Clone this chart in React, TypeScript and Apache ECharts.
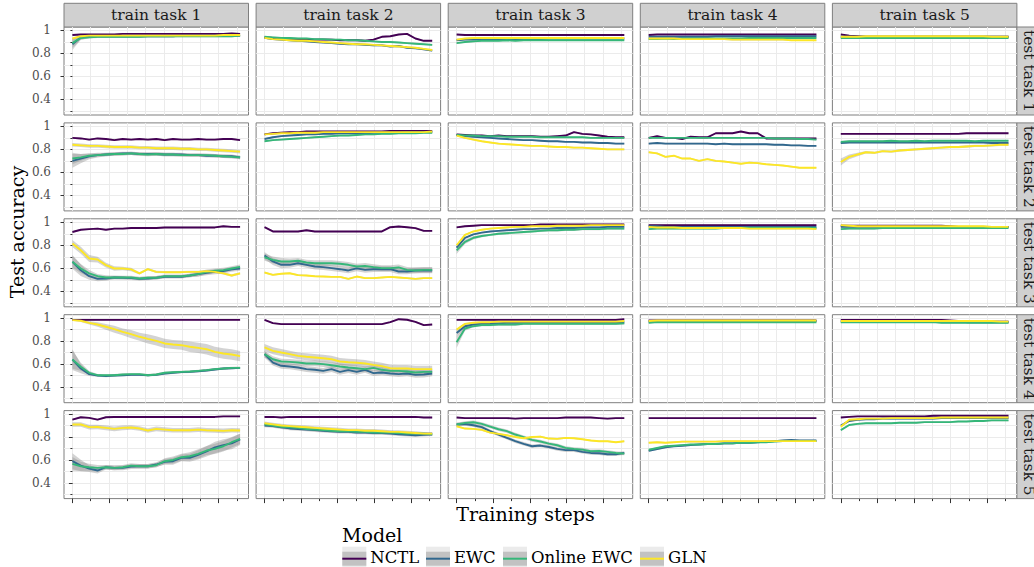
import React, { useEffect, useRef } from "react";
import * as echarts from "echarts";

const MODELS = ["NCTL", "EWC", "Online EWC", "GLN"];
const COLORS = ["#440154", "#31688E", "#35B779", "#FDE725"];
const TRAIN_TASKS = ["train task 1", "train task 2", "train task 3", "train task 4", "train task 5"];
const TEST_TASKS = ["test task 1", "test task 2", "test task 3", "test task 4", "test task 5"];

// 21 evaluation points, x in axis units (ticks at 0..9)
const POINTS = 21;
const LAST_STEP = 9.17;
const STEPS = Array.from({ length: POINTS }, (_, i) => (i * LAST_STEP) / (POINTS - 1));
const X_TICKS = [0, 1, 2, 3, 4, 5, 6, 7, 8, 9];
const X_MAJOR = [0, 2, 4, 6, 8];
const Y_TICKS = [0.3, 0.4, 0.5, 0.6, 0.7, 0.8, 0.9, 1.0];
const Y_LABELS = [0.4, 0.6, 0.8, 1];

// accuracy in %, rows = train task 1..5
const NCTL_TEST1 = [
  [96, 96.5, 96.5, 96.5, 96.5, 96.5, 97, 97, 97, 97, 97, 97, 97, 97, 97, 97, 97, 97, 97, 97.5, 97],
  [94, 93.5, 93, 92.5, 92.5, 92, 92, 92, 92, 91.5, 91.5, 91.5, 91, 92, 94.5, 95, 96.5, 97, 93, 91, 91],
  [96.5, 96, 96, 96, 96, 96, 96, 96, 96, 96, 96, 96, 96, 96, 96, 96, 96, 96, 96, 96, 96],
  [96, 96.5, 96.5, 96.5, 96.5, 96.5, 96.5, 96.5, 96.5, 96.5, 96.5, 96.5, 96.5, 96.5, 96.5, 96.5, 96.5, 96.5, 96.5, 96.5, 96.5],
  [96.5, 95.5, 95, 94.5, 94.5, 94.5, 94.5, 94.5, 94.5, 94.5, 94.5, 94.5, 94.5, 94.5, 94.5, 94.5, 94.5, 94.5, 94.5, 94.5, 94.5],
];
const EWC_TEST1 = [
  [88, 94, 94.5, 95, 95, 95, 95, 95, 95, 95, 95, 95, 95, 95.5, 95.5, 95.5, 95.5, 95.5, 95.5, 95.5, 95.5],
  [93.5, 92.5, 92, 91.5, 91, 90.5, 90, 89.5, 89, 88.5, 88, 88, 87.5, 87, 87, 86, 86.5, 85, 84.5, 83.5, 82.5],
  [91.5, 92, 92, 92.5, 92.5, 92.5, 92.5, 92.5, 92.5, 92.5, 92.5, 93, 93, 93, 93, 93, 93, 93, 93, 93, 93],
  [94.5, 94.5, 94.5, 94.5, 94.5, 94.5, 94.5, 94.5, 95, 95, 95, 95, 95, 95, 95, 95, 95, 95, 95, 95, 95],
  [94.5, 94.5, 94.5, 94.5, 94.5, 94.5, 94.5, 94.5, 94.5, 94.5, 94.5, 94.5, 94.5, 94.5, 94.5, 94.5, 94.5, 94.5, 94.5, 94.5, 94.5],
];
const OEWC_TEST1 = [
  [89, 93.5, 94, 94.5, 94.5, 94.5, 94.5, 94.5, 94.5, 95, 95, 95, 95, 95, 95, 95, 95, 95, 95, 95, 95.5],
  [94.5, 94, 93.5, 93.5, 93, 93, 92.5, 92.5, 92, 92, 91.5, 91.5, 91, 90.5, 90, 90, 89.5, 89, 88.5, 88, 87.5],
  [89, 90, 90.5, 91, 91, 91, 91.5, 91, 91.5, 91.5, 91.5, 91.5, 91.5, 91.5, 91.5, 91.5, 91.5, 91.5, 91.5, 91.5, 91.5],
  [92.5, 92.5, 93, 92.5, 93, 93, 93, 93, 93, 93, 93, 93, 93.5, 93.5, 93.5, 93.5, 93.5, 93.5, 93.5, 93.5, 93.5],
  [93.5, 93.5, 93.5, 93.5, 93.5, 93.5, 93.5, 93.5, 93.5, 93.5, 93.5, 93.5, 93.5, 93.5, 93.5, 93.5, 93.5, 93.5, 93.5, 93.5, 93.5],
];
const GLN_TEST1 = [
  [93, 95, 95.5, 95.5, 95.5, 95.5, 95.5, 95.5, 95.5, 95.5, 95.5, 95.5, 95.5, 95.5, 95.5, 95.5, 95.5, 95.5, 96, 96, 96],
  [93.5, 92.5, 92, 91.5, 91, 91, 90.5, 90, 89.5, 89, 88.5, 88, 88, 87.5, 87, 86.5, 86, 85.5, 85, 84, 83],
  [92, 93, 93.5, 93.5, 93.5, 93.5, 93.5, 93.5, 93.5, 93.5, 93.5, 93.5, 93.5, 93.5, 93.5, 93.5, 93.5, 93.5, 93.5, 93.5, 93.5],
  [93, 93, 93, 93, 92.5, 92.5, 92.5, 92.5, 92.5, 92.5, 92, 92, 92, 92, 92, 92, 92, 91.5, 91.5, 91.5, 91.5],
  [94.5, 94.5, 94.5, 95, 95, 95, 95, 95, 95, 95, 95, 95, 95, 95, 95, 95, 95, 95, 94.5, 94.5, 94.5],
];

const NCTL_TEST2 = [
  [90, 89.5, 88.5, 89.5, 89, 88, 89, 88.5, 89, 88.5, 89, 88, 89, 88.5, 88.5, 89, 88.5, 88.5, 89, 89, 88],
  [93, 94, 94.5, 95, 95, 95.5, 95.5, 95.5, 95.5, 95.5, 95.5, 95.5, 95.5, 95.5, 95.5, 96, 96, 96, 96, 96, 96],
  [93, 92.5, 92, 92, 91.5, 92, 91.5, 91.5, 91.5, 91.5, 91, 91, 91.5, 92, 95, 93.5, 93, 92, 91, 90.5, 90.5],
  [90, 91.5, 90, 90, 89, 91, 90.5, 90.5, 94, 94, 94, 95.5, 94, 94, 89.5, 89.5, 89.5, 89.5, 89.5, 89.5, 89.5],
  [93.5, 93.5, 93.5, 93.5, 93.5, 93.5, 93.5, 93.5, 93.5, 93.5, 93.5, 93.5, 93.5, 93.5, 93.5, 94, 94, 94, 94, 94, 94],
];
const EWC_TEST2 = [
  [70, 72, 74, 75, 75.5, 76, 76.5, 76.5, 76, 76, 76, 75.5, 75.5, 75.5, 75, 75, 74.5, 74.5, 74, 74, 73],
  [89, 90.5, 91.5, 92, 92.5, 93, 93, 93.5, 93.5, 94, 94, 94, 94, 94.5, 94.5, 94.5, 94.5, 95, 95, 95, 95],
  [92.5, 91.5, 91, 90.5, 90, 89.5, 89, 88.5, 88, 88, 87.5, 87, 87, 86.5, 86.5, 86, 86, 85.5, 85.5, 85, 85],
  [85, 85.5, 85, 85, 85, 85, 85, 85, 84.5, 85, 84.5, 84.5, 84.5, 84.5, 84.5, 84, 84, 83.5, 83.5, 83, 83],
  [85.5, 86, 86, 86, 86, 86, 86, 86, 86, 86, 86, 86, 86, 86, 86, 86, 86, 86, 85.5, 85.5, 85.5],
];
const OEWC_TEST2 = [
  [72, 73, 74.5, 75, 75.5, 76, 76, 76.5, 76, 75.5, 76, 75.5, 75.5, 75, 75, 75, 75, 74.5, 74, 73.5, 73],
  [87, 88, 88.5, 89, 89.5, 90, 90.5, 91, 91.5, 92, 92, 92.5, 93, 93, 93.5, 93.5, 94, 94, 94, 94.5, 94.5],
  [92.5, 92, 92, 91.5, 91.5, 91.5, 91, 91, 91, 91, 90.5, 90.5, 90.5, 90.5, 90.5, 90.5, 90, 90, 90, 90, 90],
  [90, 90, 90, 90, 90, 90, 90, 90, 90, 90, 90, 90, 90, 90, 90, 89.5, 89.5, 89.5, 89, 89, 88.5],
  [86.5, 87, 87, 87, 87, 87, 87.5, 87, 87, 87.5, 87, 87.5, 87.5, 87.5, 87.5, 87.5, 87, 87.5, 87.5, 87.5, 87.5],
];
const GLN_TEST2 = [
  [84, 83.5, 83, 83, 82.5, 82, 82, 82, 81.5, 81.5, 81, 81, 81, 80.5, 80.5, 80, 80, 79.5, 79, 78.5, 78],
  [93, 93.5, 94, 94, 94.5, 94.5, 94.5, 95, 95, 95, 95, 95, 95, 95, 95, 95, 95, 95, 95, 95, 95.5],
  [92, 90, 88.5, 87, 86, 85, 84.5, 84, 83.5, 83, 83, 82.5, 82, 82, 81.5, 81.5, 81, 80.5, 80, 80, 80],
  [77.5, 76.5, 73.5, 74.5, 72, 72, 70, 71.5, 70, 69.5, 68.5, 67.5, 68.5, 68, 67, 66.5, 66, 65, 64, 64, 64],
  [69, 73.5, 75.5, 77.5, 77, 78.5, 78, 79, 79.5, 80, 80.5, 81, 81.5, 82, 82, 82.5, 83, 83, 83.5, 84, 84],
];

const NCTL_TEST3 = [
  [91.5, 93.5, 94, 94.5, 93.5, 94.5, 94.5, 95, 95, 95, 95, 95.5, 95.5, 95.5, 95.5, 95.5, 95.5, 95.5, 96.5, 96, 96],
  [95.7, 92, 92, 92, 92, 93, 92, 92, 92, 92, 92, 92, 92, 92, 92, 95.7, 96.3, 95.7, 94.9, 92.5, 92.5],
  [95.5, 96.5, 97, 97.5, 97.5, 97.5, 97.5, 97.5, 97.5, 97.5, 98, 98, 98, 98, 98, 98, 98, 98, 98, 98, 98],
  [97.5, 97.5, 97.5, 97.5, 97.5, 97.5, 97.5, 97.5, 97.5, 97.5, 97.5, 97.5, 97.5, 97.5, 97.5, 97.5, 97.5, 97.5, 97.5, 97.5, 97.5],
  [97, 97, 97, 97, 97, 97, 97, 97, 97, 97, 97, 97, 97, 96.5, 96, 96, 96, 96, 96, 96, 96],
];
const EWC_TEST3 = [
  [65.6, 58.3, 53.1, 50.8, 51.1, 52, 51.7, 51.4, 50.8, 51.1, 51.7, 52.6, 52.6, 52.6, 53.7, 54.9, 56, 56.9, 57.5, 59, 59.8],
  [71.1, 65.9, 63, 63, 64.4, 63, 61.5, 61, 60.1, 59.2, 58.1, 59.9, 58.6, 59.2, 59.2, 59.2, 57.2, 57.2, 58.1, 58.1, 58.1],
  [78, 86.5, 89.5, 91, 92, 92.5, 93, 93.5, 94, 94, 94.5, 94.5, 95, 95, 95, 95.5, 95.5, 95.5, 96, 96, 96],
  [96.5, 96.5, 96, 96, 96, 96, 96, 96, 96, 96, 96, 96, 96, 96, 96, 96, 96, 96, 96, 96, 96],
  [96, 96, 96, 96, 96, 96, 96, 96, 96, 96, 96, 96, 96, 96, 96, 96, 96, 96, 96, 96, 96],
];
const OEWC_TEST3 = [
  [65.6, 59.8, 55.5, 53.1, 52, 52, 52, 52, 51.1, 51.7, 51.7, 53.1, 53.1, 53.1, 53.7, 54.9, 56.9, 57.8, 58.4, 59.8, 61.2],
  [69.6, 67.3, 65.9, 65.9, 66.5, 65, 64.4, 64.4, 64.4, 63.9, 63, 61.5, 62, 61, 60.1, 60.1, 60.7, 58.6, 58.1, 58.6, 58.6],
  [75.5, 83, 86.5, 88, 89, 90, 90.5, 91, 91.5, 92, 92.5, 93, 93, 93.5, 93.5, 94, 94, 94, 94.5, 94.5, 94.5],
  [94, 94.5, 94.5, 94.5, 94.5, 94.5, 94.5, 94.5, 94.5, 95, 95, 95, 95, 95, 95, 95, 95, 95, 95, 95, 95],
  [94, 94.5, 94.5, 94.5, 94.5, 95, 95, 95, 95, 95, 95, 95, 95, 95, 95, 95, 95, 95, 95, 95, 95],
];
const GLN_TEST3 = [
  [81.5, 75.7, 68.5, 67.6, 62.7, 59.8, 59.8, 59, 55.5, 59.2, 56.9, 56.6, 56.6, 56.6, 56.9, 56.9, 57.5, 56.9, 55.5, 53.7, 55.5],
  [56.3, 54.3, 55.2, 55.7, 54, 53.7, 53.1, 52.8, 52.5, 52.5, 50.8, 52.8, 51.4, 51.4, 52, 52.5, 52, 51.4, 50.8, 51.4, 51.4],
  [80, 89, 92, 93.5, 94.5, 95, 95.5, 96, 96, 96.5, 96.5, 96.5, 97, 97, 97, 97, 97.5, 97.5, 97.5, 97.5, 97.5],
  [96, 95.5, 95.5, 95.5, 95, 95, 95, 95, 95, 95, 95, 95, 94.5, 94.5, 94.5, 94.5, 94.5, 94.5, 94.5, 94.5, 94],
  [97.5, 97, 96.5, 96.5, 96.5, 96.5, 96.5, 96.5, 96.5, 96.5, 96.5, 96.5, 96.5, 96.5, 96.5, 96.5, 96.5, 96.5, 96, 96, 96],
];

const NCTL_TEST4 = [
  [98.5, 98.5, 98.5, 98.5, 98.5, 98.5, 98.5, 98.5, 98.5, 98.5, 98.5, 98.5, 98.5, 98.5, 98.5, 98.5, 98.5, 98.5, 98.5, 98.5, 98.5],
  [98.6, 95.7, 94.8, 94.8, 94.8, 94.8, 94.8, 94.8, 94.8, 94.8, 94.8, 94.8, 94.8, 94.8, 94.8, 96.5, 99.1, 98.6, 96.8, 93.9, 94.5],
  [98.5, 98.5, 98.5, 98.5, 98.5, 98.5, 98.5, 98.5, 98.5, 98.5, 98.5, 98.5, 98.5, 98.5, 98.5, 98.5, 98.5, 98.5, 98.5, 98.5, 99],
  [98, 98, 98, 98, 98, 98, 98, 98, 98, 98, 98, 98, 98, 98, 98, 98, 98, 98, 98, 98, 98],
  [98.5, 98.5, 98.5, 98.5, 98.5, 98.5, 98.5, 98.5, 98.5, 98.5, 98.5, 98.5, 98.5, 98, 97.5, 97, 97, 97, 97, 97, 97],
];
const EWC_TEST4 = [
  [64, 56.2, 51.3, 50.1, 49.6, 50.1, 50.4, 50.7, 50.7, 50.4, 50.7, 51.9, 52.5, 53.1, 53.3, 53.9, 54.5, 55.4, 56.2, 56.5, 56.8],
  [68.7, 61.4, 58.6, 58, 57.1, 55.7, 55.1, 54.2, 55.7, 53.3, 54.8, 53.3, 55.1, 52.2, 52.8, 51.9, 51.3, 51.9, 50.7, 51, 51.9],
  [87, 93, 94.5, 95, 95.5, 95.5, 96, 96, 96, 96, 96, 96, 96, 96, 96.5, 96.5, 96.5, 96.5, 96.5, 96.5, 96.5],
  [97, 97.5, 97.5, 97.5, 97.5, 97.5, 97.5, 97.5, 97.5, 97.5, 97.5, 97.5, 97.5, 97.5, 97.5, 97.5, 97.5, 97.5, 97.5, 97.5, 97.5],
  [97, 97, 97, 97, 97, 97, 97, 97, 97, 97, 97, 97, 97, 97, 97, 96.5, 96.5, 96.5, 96.5, 96.5, 96.5],
];
const OEWC_TEST4 = [
  [64, 57.7, 52.5, 50.4, 50.4, 50.4, 51, 51.3, 51.3, 50.4, 51, 52.5, 53, 53.3, 53.6, 54.2, 54.8, 55.7, 56.2, 56.8, 56.8],
  [68.7, 64.3, 62.3, 62, 61.4, 60.6, 60.6, 60, 59.1, 58, 57.1, 56.5, 55.7, 56.8, 55.1, 54.2, 54.2, 53.6, 52.8, 53.3, 53.3],
  [79, 91, 93, 94, 94, 94.5, 94.5, 94.5, 95, 95, 95, 95, 95, 95, 95, 95, 95, 95, 95, 95, 95.5],
  [96, 96.5, 96.5, 96.5, 96.5, 96.5, 96.5, 96.5, 96.5, 96.5, 96.5, 96.5, 96.5, 96.5, 96.5, 96.5, 96.5, 96.5, 96.5, 96.5, 96.5],
  [96.5, 96.5, 96.5, 96.5, 96.5, 96.5, 96.5, 96.5, 96.5, 96.5, 96.5, 96.5, 96, 96, 96, 96, 96, 96, 96, 96, 96],
];
const GLN_TEST4 = [
  [98.3, 97.7, 95.9, 94.5, 92.5, 90.4, 88.1, 86.1, 83.8, 82, 80.3, 78, 77.1, 76.5, 75.1, 74.2, 73, 70.7, 69.3, 68.4, 67],
  [74.5, 71.6, 70.1, 68.7, 67.2, 66.4, 65.8, 65.2, 64.3, 62.3, 61.7, 61.2, 60.6, 59.4, 58.3, 56.5, 56.2, 56.2, 55.7, 55.7, 55.7],
  [90, 95, 96, 96.5, 96.5, 97, 97, 97, 97, 97, 97, 97, 97, 97, 97, 97, 97, 97, 97, 97, 97.5],
  [97.5, 98, 98, 98, 98, 98, 98, 98, 98, 98, 98, 98, 98, 98, 98, 98, 98, 98, 98, 98, 98],
  [97.5, 97.5, 97.5, 97.5, 97.5, 97.5, 97.5, 97.5, 97.5, 97.5, 97.5, 97.5, 97.5, 97.5, 97.5, 97.5, 97.5, 97.5, 97.5, 97, 97],
];

const NCTL_TEST5 = [
  [95.2, 97.2, 96.7, 95.2, 97.2, 97.5, 97.5, 97.5, 97.5, 97.5, 97.5, 97.5, 97.5, 97.5, 97.5, 97.5, 97.5, 97.5, 98, 98, 98],
  [97.5, 97.5, 97, 97.5, 97.5, 97.5, 97.5, 97.5, 97.5, 97.5, 97.5, 97.5, 97.5, 97.5, 97.5, 97.5, 97.5, 97.5, 97.5, 97, 97],
  [97, 96.5, 96.5, 96.5, 96.5, 96.5, 96.5, 96, 96.5, 96.5, 96.5, 96.5, 96.5, 97, 97, 97, 97, 96.5, 96, 96.5, 96.5],
  [96.5, 96.5, 96.5, 96.5, 96.5, 96.5, 96.5, 96.5, 96.5, 96.5, 96.5, 96.5, 96.5, 96.5, 96.5, 96.5, 96.5, 96.5, 96.5, 96.5, 96.5],
  [97, 97.5, 98, 98, 98, 98, 98, 98, 98, 98, 98, 98.5, 98.5, 98.5, 98.5, 98.5, 98.5, 98.5, 98.5, 98.5, 98.5],
];
const EWC_TEST5 = [
  [59, 55.2, 52.6, 50.9, 53.8, 53.2, 53.2, 54.3, 54.6, 54.6, 56.1, 58.4, 59, 61.9, 62, 64.5, 67.5, 71, 73, 74.5, 78],
  [90, 89.5, 88.5, 87.5, 87, 86.5, 86, 85.5, 85, 84.5, 84.5, 84, 84, 83.5, 83.5, 83, 82.5, 82, 81.5, 82, 82.5],
  [90.9, 91.4, 90.3, 88.6, 85.1, 82.2, 79.3, 76.4, 74.1, 72, 72.6, 71.4, 69.7, 68.6, 68.6, 67.1, 66.2, 65.9, 65.1, 65.1, 66.2],
  [68, 69.5, 71, 72, 72.5, 73, 73.5, 74, 74, 74.5, 74.5, 75, 75, 75.5, 76, 76.5, 77, 77.5, 77, 77, 77],
  [90, 94, 95, 95.5, 95.5, 96, 96, 96, 96, 96, 96, 96, 96.5, 96.5, 96.5, 96.5, 96.5, 96.5, 96.5, 96.5, 96.5],
];
const OEWC_TEST5 = [
  [56.7, 54.6, 53.8, 53.2, 53.8, 53.2, 53.8, 55.2, 54.6, 54.6, 55.5, 59, 60.1, 62.5, 63.3, 65.4, 68.3, 69.7, 72, 75.5, 78.4],
  [91, 90, 89, 88.5, 88, 87, 86.5, 86, 85.5, 85, 85, 84.5, 84.5, 84, 84, 84, 83.5, 83, 83, 83, 82.5],
  [90.9, 92.3, 92.9, 91.4, 89.1, 86.8, 85.1, 82.2, 79.9, 77.5, 76.1, 74.3, 72.9, 70.6, 69.7, 69.1, 67.7, 68, 67.1, 66.2, 65.6],
  [69, 70.5, 72, 72.5, 73, 73.5, 73.5, 74, 74, 74.5, 74.5, 75, 75, 75.5, 75.5, 76, 76.5, 76.5, 76.5, 76.5, 76.5],
  [86, 90.5, 91.5, 92, 92, 92, 92, 92.5, 92.5, 92.5, 93, 93, 93, 93, 93.5, 93.5, 94, 94, 94.5, 94.5, 94.5],
];
const GLN_TEST5 = [
  [90.9, 90.9, 88.6, 88.8, 88, 87.1, 88, 88.3, 87.4, 85.7, 87.1, 86.5, 85.9, 85.9, 85.9, 86.5, 85.9, 85.7, 85.4, 85.9, 85.7],
  [92, 91, 90, 89.5, 89, 88.5, 88, 87.5, 87, 86.5, 86, 86, 85.5, 85.5, 85, 84.5, 84.5, 84, 83.5, 83, 83],
  [89.4, 87.4, 87.1, 86.2, 83.9, 82.8, 81.6, 80.1, 79, 80.1, 80.4, 78.7, 78.4, 79.3, 79, 78.1, 77, 76.4, 76.4, 75.5, 76.4],
  [75, 75.5, 75, 75.5, 76, 76, 76, 76, 76, 76.5, 76.5, 76.5, 76.5, 76.5, 76.5, 76.5, 76.5, 76.5, 76.5, 76.5, 76.5],
  [89, 95, 95.5, 96, 96, 96, 96.5, 96.5, 96.5, 96.5, 96.5, 96.5, 97, 97, 97, 97, 97, 97, 97, 97, 97],
];

const NCTL = [NCTL_TEST1, NCTL_TEST2, NCTL_TEST3, NCTL_TEST4, NCTL_TEST5];
const EWC = [EWC_TEST1, EWC_TEST2, EWC_TEST3, EWC_TEST4, EWC_TEST5];
const OEWC = [OEWC_TEST1, OEWC_TEST2, OEWC_TEST3, OEWC_TEST4, OEWC_TEST5];
const GLN = [GLN_TEST1, GLN_TEST2, GLN_TEST3, GLN_TEST4, GLN_TEST5];
const MODEL_DATA = [NCTL, EWC, OEWC, GLN];

// ribbon half widths (%) : [test task idx, train task idx, model idx, widths]
const BAND_DEFAULT = 0.7;
const BANDS: [number, number, number, number[]][] = [
  [0, 0, 1, [5, 2, 1, 1, 1, 1, 1, 1, 1, 1, 1, 1, 1, 1, 1, 1, 1, 1, 1, 1, 1]],
  [0, 0, 2, [4, 1.5, 1, 1, 1, 1, 1, 1, 1, 1, 1, 1, 1, 1, 1, 1, 1, 1, 1, 1, 1]],
  [1, 0, 1, [6, 4, 2.5, 2, 1.5, 1.5, 1.5, 1.5, 1.5, 1.5, 1.5, 1.5, 1.5, 1.5, 1.5, 1.5, 1.5, 1.5, 1.5, 1.5, 1.5]],
  [1, 0, 2, [5, 3, 2, 1.5, 1.5, 1.5, 1.5, 1.5, 1.5, 1.5, 1.5, 1.5, 1.5, 1.5, 1.5, 1.5, 1.5, 1.5, 1.5, 1.5, 1.5]],
  [1, 0, 3, [1.5, 1.5, 1.5, 1.5, 1.5, 1.5, 1.5, 1.5, 1.5, 1.5, 1.5, 1.5, 1.5, 1.5, 1.5, 1.5, 1.5, 1.5, 1.5, 1.5, 1.5]],
  [2, 0, 1, [6, 5, 3, 2, 2, 1.5, 1.5, 1.5, 1.5, 1.5, 1.5, 1.5, 1.5, 1.5, 1.5, 2, 2, 2, 2, 2, 2]],
  [2, 0, 2, [5, 4, 3, 2, 2, 1.5, 1.5, 1.5, 1.5, 1.5, 1.5, 1.5, 1.5, 1.5, 1.5, 2, 2, 2, 2, 2, 2]],
  [2, 0, 3, [3, 3, 3, 2.5, 2, 2, 1.5, 1.5, 1, 1, 1, 1, 1, 1, 1, 1, 1, 1, 1, 1, 1]],
  [3, 0, 1, [9, 4, 1.5, 1, 1, 1, 1, 1, 1, 1, 1, 1, 1, 1, 1, 1, 1, 1, 1, 1, 1]],
  [3, 0, 2, [8, 3.5, 1.5, 1, 1, 1, 1, 1, 1, 1, 1, 1, 1, 1, 1, 1, 1, 1, 1, 1, 1]],
  [3, 0, 3, [0.5, 1, 1.5, 2, 2.5, 3, 3, 3.5, 3.5, 4, 4, 4, 4, 4, 4.5, 4.5, 4.5, 4.5, 4.5, 4.5, 4.5]],
  [4, 0, 1, [7, 5, 3, 2.5, 2, 2, 2, 2, 2, 2, 2, 2.5, 3, 3, 3.5, 4, 4.5, 5, 5, 5, 5]],
  [4, 0, 2, [6, 4, 3, 2.5, 2, 2, 2, 2, 2, 2, 2, 2.5, 3, 3, 3.5, 4, 4, 4.5, 4.5, 4.5, 4.5]],
  [4, 0, 3, [2, 2, 2, 2, 2, 2, 2, 2, 2, 2, 2, 2, 2, 2, 2, 2, 2, 2, 2, 2, 2]],
  [2, 1, 1, [3, 3, 3, 2.5, 2.5, 2.5, 2.5, 2.5, 2.5, 2.5, 2.5, 2.5, 2.5, 2.5, 2.5, 2.5, 2.5, 2.5, 2.5, 2.5, 2.5]],
  [2, 1, 2, [3, 3, 3, 2.5, 2.5, 2.5, 2.5, 2.5, 2.5, 2.5, 2.5, 2.5, 2.5, 2.5, 2.5, 2.5, 2.5, 2.5, 2.5, 2.5, 2.5]],
  [3, 1, 1, [3, 2.5, 2.5, 2.5, 2.5, 2.5, 2.5, 2.5, 2.5, 2.5, 2.5, 2.5, 2.5, 2.5, 2.5, 2.5, 2.5, 2.5, 2.5, 2.5, 2.5]],
  [3, 1, 2, [3, 2.5, 2.5, 2.5, 2.5, 2.5, 2.5, 2.5, 2.5, 2.5, 2.5, 2.5, 2.5, 2.5, 2.5, 2.5, 2.5, 2.5, 2.5, 2.5, 2.5]],
  [3, 1, 3, [3, 3, 3, 3, 3, 3, 3, 3, 3, 3, 3, 3, 3, 3, 3, 3, 3, 3, 3, 3, 3]],
  [4, 1, 1, [1.5, 1.5, 1.5, 1.5, 1.5, 1.5, 1.5, 1.5, 1.5, 1.5, 1.5, 1.5, 1.5, 1.5, 1.5, 1.5, 1.5, 1.5, 1.5, 1.5, 1.5]],
  [4, 1, 2, [1.5, 1.5, 1.5, 1.5, 1.5, 1.5, 1.5, 1.5, 1.5, 1.5, 1.5, 1.5, 1.5, 1.5, 1.5, 1.5, 1.5, 1.5, 1.5, 1.5, 1.5]],
  [4, 1, 3, [1.5, 1.5, 1.5, 1.5, 1.5, 1.5, 1.5, 1.5, 1.5, 1.5, 1.5, 1.5, 1.5, 1.5, 1.5, 1.5, 1.5, 1.5, 1.5, 1.5, 1.5]],
  [2, 2, 2, [3, 2, 1.5, 1, 1, 1, 1, 1, 1, 1, 1, 1, 1, 1, 1, 1, 1, 1, 1, 1, 1]],
  [3, 2, 1, [3, 1.5, 1, 1, 1, 1, 1, 1, 1, 1, 1, 1, 1, 1, 1, 1, 1, 1, 1, 1, 1]],
  [3, 2, 2, [5, 2, 1, 1, 1, 1, 1, 1, 1, 1, 1, 1, 1, 1, 1, 1, 1, 1, 1, 1, 1]],
  [4, 2, 1, [1.5, 1.5, 1.5, 1.5, 1.5, 1.5, 1.5, 1.5, 1.5, 1.5, 1.5, 1.5, 1.5, 1.5, 1.5, 1.5, 1.5, 1.5, 1.5, 1.5, 1.5]],
  [4, 2, 2, [1.5, 1.5, 1.5, 1.5, 1.5, 1.5, 1.5, 1.5, 1.5, 1.5, 1.5, 1.5, 1.5, 1.5, 1.5, 1.5, 1.5, 1.5, 1.5, 1.5, 1.5]],
  [1, 4, 3, [3, 2, 1.5, 1, 1, 1, 1, 1, 1, 1, 1, 1, 1, 1, 1, 1, 1, 1, 1, 1, 1]],
];

const FONT = '"DejaVu Serif", serif';

function bandFor(r: number, c: number, m: number): number[] {
  const found = BANDS.find((b) => b[0] === r && b[1] === c && b[2] === m);
  return found ? found[3] : STEPS.map(() => BAND_DEFAULT);
}

function buildOption() {
  const L0 = 64, PW = 184.5, CSTEP = 192.1;
  const T0 = 27, PH = 88, RSTEP = 95.9;
  const X_MIN = -0.46, X_MAX = 9.63, Y_MIN = 0.265, Y_MAX = 1.03;
  const grids: any[] = [];
  const xAxes: any[] = [];
  const yAxes: any[] = [];
  const series: any[] = [];
  const graphic: any[] = [];

  for (let r = 0; r < 5; r++) {
    for (let c = 0; c < 5; c++) {
      const gi = grids.length;
      grids.push({
        left: L0 + c * CSTEP, top: T0 + r * RSTEP, width: PW, height: PH,
        show: true, backgroundColor: "#ffffff", borderColor: "#7f7f7f", borderWidth: 1,
      });
      const xi = xAxes.length;
      xAxes.push({
        gridIndex: gi, type: "value", position: "bottom", min: X_MIN, max: X_MAX,
        axisLine: { show: false },
        axisLabel: { show: false },
        axisTick: { show: r === 4, customValues: X_TICKS, length: 2.5, lineStyle: { color: "#333333", width: 1 } },
        splitLine: { show: true, lineStyle: { color: "#ebebeb", width: 1 } },
      });
      if (r === 4) {
        xAxes.push({
          gridIndex: gi, type: "value", position: "bottom", min: X_MIN, max: X_MAX,
          axisLine: { show: false }, axisLabel: { show: false },
          axisTick: { show: true, customValues: X_MAJOR, length: 4.5, lineStyle: { color: "#333333", width: 1 } },
          splitLine: { show: false },
        });
      }
      const yi = yAxes.length;
      yAxes.push({
        gridIndex: gi, type: "value", position: "left", min: Y_MIN, max: Y_MAX,
        axisLine: { show: false },
        axisLabel: { show: false },
        axisTick: { show: c === 0, customValues: Y_TICKS, length: 2, lineStyle: { color: "#333333", width: 1 } },
        splitLine: { show: true, lineStyle: { color: "#ebebeb", width: 1 } },
      });
      if (c === 0) {
        yAxes.push({
          gridIndex: gi, type: "value", position: "left", min: Y_MIN, max: Y_MAX,
          axisLine: { show: false },
          axisTick: { show: true, customValues: Y_LABELS, length: 3.5, lineStyle: { color: "#333333", width: 1 } },
          axisLabel: {
            show: true, customValues: Y_LABELS, margin: 13, color: "#4d4d4d", fontSize: 12, fontFamily: FONT,
            formatter: (v: number) => (Math.abs(v - 1) < 1e-9 ? "1" : v.toFixed(1)),
          },
          splitLine: { show: false },
        });
      }

      series.push({
        type: "custom", xAxisIndex: xi, yAxisIndex: yi, z: 1, silent: true, clip: true,
        data: [[0, 0.5]],
        renderItem: (_params: any, api: any) => {
          const children = MODEL_DATA.map((md, m) => {
            const vals = md[r][c];
            const hw = bandFor(r, c, m);
            const pts: number[][] = [];
            for (let i = 0; i < STEPS.length; i++) pts.push(api.coord([STEPS[i], (vals[i] + hw[i]) / 100]));
            for (let i = STEPS.length - 1; i >= 0; i--) pts.push(api.coord([STEPS[i], (vals[i] - hw[i]) / 100]));
            return { type: "polygon", shape: { points: pts }, style: { fill: "rgba(140,140,140,0.38)", stroke: "none" } };
          });
          return { type: "group", children };
        },
      });
      MODELS.forEach((name, m) => {
        const vals = MODEL_DATA[m][r][c];
        series.push({
          type: "line", name, xAxisIndex: xi, yAxisIndex: yi, z: 2 + m, silent: true,
          data: STEPS.map((s, i) => [s, vals[i] / 100]),
          showSymbol: false, symbol: "none",
          lineStyle: { width: 1.9, color: COLORS[m] }, itemStyle: { color: COLORS[m] },
        });
      });
    }
  }

  // top strips
  TRAIN_TASKS.forEach((t, c) => {
    const x = L0 + c * CSTEP;
    graphic.push({ type: "rect", silent: true, shape: { x, y: 3.3, width: PW, height: T0 - 3.3 }, style: { fill: "#d0d0d0", stroke: "#7f7f7f", lineWidth: 1 } });
    graphic.push({ type: "text", silent: true, x: x + PW / 2, y: 15.2, style: { text: t, fontSize: 15.5, fontFamily: FONT, fill: "#1a1a1a", textAlign: "center", textVerticalAlign: "middle" } });
  });
  // right strips
  TEST_TASKS.forEach((t, r) => {
    const y = T0 + r * RSTEP;
    const x = L0 + 4 * CSTEP + PW;
    graphic.push({ type: "rect", silent: true, shape: { x, y, width: 24, height: PH }, style: { fill: "#d0d0d0", stroke: "#7f7f7f", lineWidth: 1 } });
    graphic.push({ type: "text", silent: true, x: x + 12, y: y + PH / 2, rotation: -Math.PI / 2, style: { text: t, fontSize: 15.5, fontFamily: FONT, fill: "#1a1a1a", textAlign: "center", textVerticalAlign: "middle" } });
  });
  // axis titles
  graphic.push({ type: "text", silent: true, x: 17, y: 232, rotation: Math.PI / 2, style: { text: "Test accuracy", fontSize: 19, fontFamily: FONT, fill: "#000000", textAlign: "center", textVerticalAlign: "middle" } });
  graphic.push({ type: "text", silent: true, x: 525.5, y: 514, style: { text: "Training steps", fontSize: 19, fontFamily: FONT, fill: "#000000", textAlign: "center", textVerticalAlign: "middle" } });
  // legend
  graphic.push({ type: "text", silent: true, x: 342, y: 534.6, style: { text: "Model", fontSize: 19, fontFamily: FONT, fill: "#000000", textAlign: "left", textVerticalAlign: "middle" } });
  const KEY_X = [342.3, 426, 503, 640];
  MODELS.forEach((name, m) => {
    const kx = KEY_X[m];
    graphic.push({ type: "rect", silent: true, shape: { x: kx, y: 546.7, width: 24, height: 24 }, style: { fill: "#ebebeb" } });
    graphic.push({ type: "rect", silent: true, shape: { x: kx, y: 551.7, width: 24, height: 14 }, style: { fill: "#c2c2c2" } });
    graphic.push({ type: "line", silent: true, shape: { x1: kx, y1: 558.7, x2: kx + 24, y2: 558.7 }, style: { stroke: COLORS[m], lineWidth: 2 } });
    graphic.push({ type: "text", silent: true, x: kx + 28, y: 557.8, style: { text: name, fontSize: 16.5, fontFamily: FONT, fill: "#000000", textAlign: "left", textVerticalAlign: "middle" } });
  });

  return {
    animation: false,
    backgroundColor: "#ffffff",
    textStyle: { fontFamily: FONT },
    grid: grids,
    xAxis: xAxes,
    yAxis: yAxes,
    series,
    graphic: { elements: graphic },
  };
}

export default function App() {
  const ref = useRef<HTMLDivElement>(null);
  useEffect(() => {
    if (!ref.current) return;
    const chart = echarts.init(ref.current, undefined, { renderer: "svg" });
    chart.setOption(buildOption() as any);
    return () => chart.dispose();
  }, []);
  return <div ref={ref} style={{ position: "absolute", left: 0, top: 0, width: 1034, height: 567 }} />;
}
